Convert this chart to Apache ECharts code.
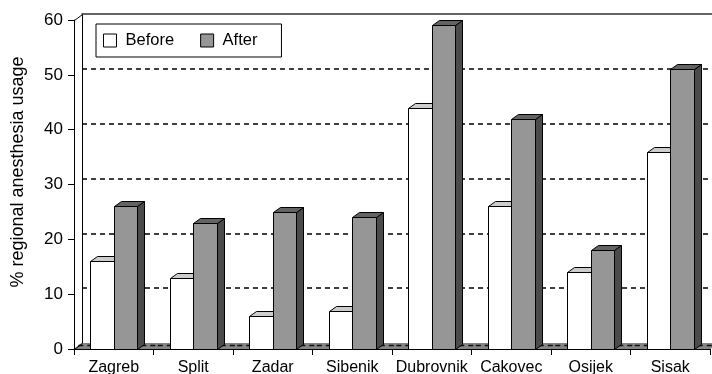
<!DOCTYPE html>
<html>
<head>
<meta charset="utf-8">
<script src="https://cdn.jsdelivr.net/npm/echarts@6/dist/echarts.min.js"></script>
<style>
  html, body { margin: 0; padding: 0; background: #fff; }
  #chart { width: 712px; height: 374px; }
</style>
</head>
<body>
<div id="chart"></div>
<script>
// Regional anesthesia usage by hospital, before and after
const cities = ['Zagreb', 'Split', 'Zadar', 'Sibenik', 'Dubrovnik', 'Cakovec', 'Osijek', 'Sisak'];
const before = [16, 13, 6, 7, 44, 26, 14, 36];
const after  = [26, 23, 25, 24, 59, 42, 18, 51];
const yTicks = [0, 10, 20, 30, 40, 50, 60];
const yTitle = '% regional anesthesia usage';

const FONT = '"Liberation Sans", Arial, sans-serif';
// depth of the back wall and of the bars, in pixels
const WALL_DX = 8, WALL_DY = -6;
const BAR_DX = 7, BAR_DY = -5;
const BAR_FRAC = 0.296;

const chart = echarts.init(document.getElementById('chart'), null, { renderer: 'canvas' });

function px(v) { return Math.round(v) + 0.5; }

function barRenderer(side, front, topCol, sideCol) {
  return function (params, api) {
    const i = api.value(0), v = api.value(1);
    const top = api.coord([i, v]);
    const base = api.coord([i, 0]);
    const bw = api.size([1, 0])[0] * BAR_FRAC;
    let x0, x1;
    if (side < 0) { x0 = top[0] - bw; x1 = top[0]; }
    else { x0 = top[0]; x1 = top[0] + bw; }
    x0 = px(x0); x1 = px(x1);
    const yt = px(top[1]), yb = px(base[1]);
    const stroke = { stroke: '#000', lineWidth: 1, lineJoin: 'miter' };
    return {
      type: 'group',
      children: [
        { type: 'polygon', shape: { points: [[x1, yt], [x1 + BAR_DX, yt + BAR_DY], [x1 + BAR_DX, yb + BAR_DY], [x1, yb]] },
          style: Object.assign({ fill: sideCol }, stroke) },
        { type: 'polygon', shape: { points: [[x0, yt], [x1, yt], [x1 + BAR_DX, yt + BAR_DY], [x0 + BAR_DX, yt + BAR_DY]] },
          style: Object.assign({ fill: topCol }, stroke) },
        { type: 'rect', shape: { x: x0, y: yt, width: x1 - x0, height: yb - yt },
          style: Object.assign({ fill: front }, stroke) }
      ]
    };
  };
}

// floor strip under each category plus the wall corner edges
function floorRenderer(params, api) {
  const i = api.value(0);
  const c = api.coord([i, 0]);
  const band = api.size([1, 0])[0];
  const x0 = c[0] - band / 2 - 0.5, x1 = c[0] + band / 2 + 0.5;
  const y0 = c[1];
  const yd = Math.round(y0 + WALL_DY * 0.6) + 0.5;
  const children = [
    { type: 'polygon', shape: { points: [[x0, y0], [x1, y0], [x1 + WALL_DX, y0 + WALL_DY], [x0 + WALL_DX, y0 + WALL_DY]] },
      style: { fill: '#858585' } },
    { type: 'line', shape: { x1: x0 + WALL_DX * 0.6, y1: yd, x2: x1 + WALL_DX * 0.6, y2: yd },
      style: { stroke: '#111', lineWidth: 1.5, lineDash: [5, 4] } }
  ];
  if (i === 0) {
    const t = api.coord([0, yTicks[yTicks.length - 1]]);
    const xl = px(c[0] - band / 2);
    children.push(
      { type: 'line', shape: { x1: xl, y1: px(y0), x2: xl + WALL_DX, y2: px(y0) + WALL_DY }, style: { stroke: '#000', lineWidth: 1 } },
      { type: 'line', shape: { x1: xl, y1: px(t[1]), x2: xl + WALL_DX, y2: px(t[1]) + WALL_DY }, style: { stroke: '#000', lineWidth: 1 } }
    );
  }
  return { type: 'group', children: children };
}

chart.setOption({
  animation: false,
  backgroundColor: '#fff',
  textStyle: { fontFamily: FONT, color: '#000' },
  graphic: [
    {
      type: 'text', x: 18, y: 172, rotation: Math.PI / 2,
      style: { text: yTitle, align: 'center', verticalAlign: 'middle', fill: '#000',
               font: '18px "Liberation Sans", Arial, sans-serif' }
    }
  ],
  legend: {
    left: 96, top: 24,
    padding: [8, 24, 8, 7],
    itemGap: 26,
    itemWidth: 13, itemHeight: 13,
    icon: 'rect',
    backgroundColor: '#fff',
    borderColor: '#000', borderWidth: 1,
    itemStyle: { borderColor: '#000', borderWidth: 1 },
    textStyle: { fontFamily: FONT, fontSize: 16.5, color: '#000', padding: [0, 0, 0, 4] },
    data: ['Before', 'After']
  },
  grid: [
    { left: 74, right: 2, top: 20, bottom: 25, containLabel: false, outerBoundsMode: 'none' },
    { left: 74 + WALL_DX, right: 2 - WALL_DX, top: 20 + WALL_DY, bottom: 25 - WALL_DY, containLabel: false, outerBoundsMode: 'none' }
  ],
  xAxis: [
    {
      type: 'category', gridIndex: 0, data: cities, boundaryGap: true,
      axisLine: { lineStyle: { color: '#000', width: 1 } },
      axisTick: { show: true, length: 6, interval: 0, lineStyle: { color: '#000' } },
      axisLabel: { interval: 0, margin: 11, fontFamily: FONT, fontSize: 16, color: '#000' },
      splitLine: { show: false }, z: 3
    },
    {
      type: 'category', gridIndex: 1, data: cities, position: 'top', z: 5,
      axisLine: { onZero: false, lineStyle: { color: '#333', width: 1.5 } },
      axisTick: { show: false }, axisLabel: { show: false }, splitLine: { show: false }
    }
  ],
  yAxis: [
    {
      type: 'value', gridIndex: 0, min: yTicks[0], max: yTicks[yTicks.length - 1], interval: 10,
      axisLine: { show: true, lineStyle: { color: '#000', width: 1 } },
      axisTick: { show: true, length: 6, lineStyle: { color: '#000' } },
      axisLabel: { margin: 11, fontFamily: FONT, fontSize: 17, color: '#000' },
      splitLine: { show: false }, z: 3
    },
    {
      type: 'value', gridIndex: 1, min: yTicks[0], max: yTicks[yTicks.length - 1], interval: 10,
      axisLine: { show: true, lineStyle: { color: '#000', width: 1 } },
      axisTick: { show: false }, axisLabel: { show: false },
      splitLine: { show: true, showMinLine: false, showMaxLine: false,
                   lineStyle: { color: '#000', width: 1.5, type: [5, 4] } }
    }
  ],
  series: [
    {
      name: 'floor', type: 'custom', xAxisIndex: 0, yAxisIndex: 0, z: 1,
      renderItem: floorRenderer, data: cities.map((c, i) => [i]), encode: { x: 0 }, silent: true
    },
    {
      name: 'Before', type: 'custom', xAxisIndex: 0, yAxisIndex: 0, z: 2,
      itemStyle: { color: '#ffffff', borderColor: '#000' },
      renderItem: barRenderer(-1, '#ffffff', '#cccccc', '#999999'),
      data: before.map((v, i) => [i, v]), encode: { x: 0, y: 1 }
    },
    {
      name: 'After', type: 'custom', xAxisIndex: 0, yAxisIndex: 0, z: 2,
      itemStyle: { color: '#969696', borderColor: '#000' },
      renderItem: barRenderer(1, '#969696', '#636363', '#4b4b4b'),
      data: after.map((v, i) => [i, v]), encode: { x: 0, y: 1 }
    }
  ]
});
</script>
</body>
</html>
